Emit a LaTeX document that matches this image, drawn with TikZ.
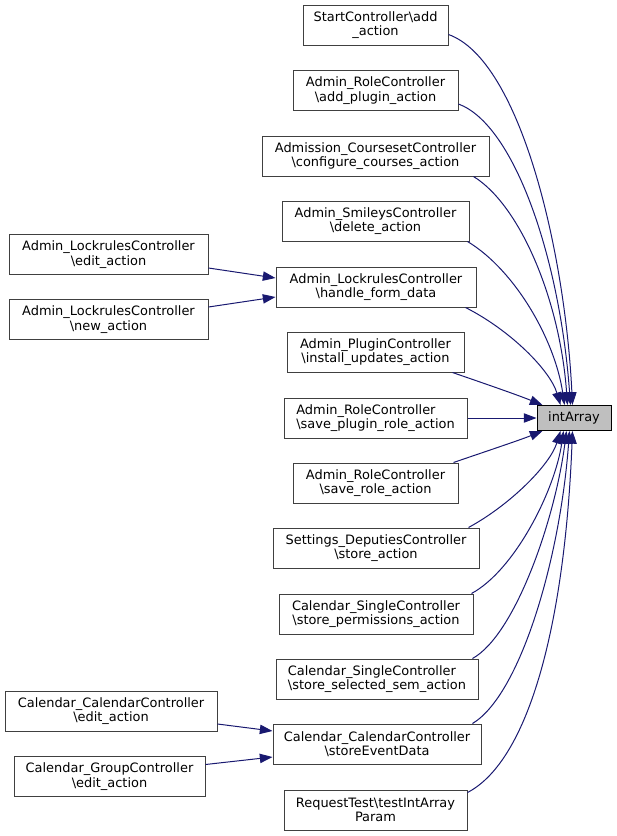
\documentclass[tikz,border=0pt]{standalone}
\usepackage{fontspec}
\setmainfont{DejaVu Sans}
\usetikzlibrary{arrows.meta,calc}
\definecolor{edgeblue}{HTML}{191970}
\definecolor{boxline}{HTML}{404040}
\definecolor{hlfill}{HTML}{BFBFBF}
\tikzset{
  fn/.style={draw=boxline, line width=0.75pt, fill=white, inner sep=0pt,
    minimum height=30pt, align=center, font=\fontsize{9.7}{10.7}\selectfont},
  fnl/.style={fn, align=left},
  hl/.style={draw=black, line width=0.75pt, fill=hlfill, inner sep=0pt,
    minimum height=18.75pt, minimum width=55.5pt, font=\fontsize{9.7}{10.7}\selectfont},
  call/.style={draw=edgeblue, line width=0.75pt, -{Triangle[length=9.5pt,width=7pt]}}
}
\begin{document}
\begin{tikzpicture}[x=0.75pt,y=-0.75pt]
\useasboundingbox (0,0) rectangle (617,836);
% target
\node[hl] (ia) at (574,418) {intArray};
% direct callers
\node[fn, minimum width=145*0.75pt] (st)  at (375.5,25)  {StartController\textbackslash add\\\_action};
\node[fn, minimum width=165*0.75pt] (arp) at (375.5,90.5) {Admin\_RoleController\\\textbackslash add\_plugin\_action};
\node[fn, minimum width=227*0.75pt] (acc) at (375.5,156) {Admission\_CoursesetController\\\textbackslash configure\_courses\_action};
\node[fn, minimum width=187*0.75pt] (del) at (375.5,221) {Admin\_SmileysController\\\textbackslash delete\_action};
\node[fn, minimum width=200*0.75pt] (hfd) at (376,287)   {Admin\_LockrulesController\\\textbackslash handle\_form\_data};
\node[fn, minimum width=177*0.75pt] (iua) at (375.5,352) {Admin\_PluginController\\\textbackslash install\_updates\_action};
\node[fnl, minimum width=183*0.75pt] (spr) at (375.5,418) {Admin\_RoleController\\\textbackslash save\_plugin\_role\_action};
\node[fn, minimum width=165*0.75pt] (sra) at (375.5,483) {Admin\_RoleController\\\textbackslash save\_role\_action};
\node[fn, minimum width=206*0.75pt] (sda) at (376,548)   {Settings\_DeputiesController\\\textbackslash store\_action};
\node[fn, minimum width=194*0.75pt] (spa) at (376,614)   {Calendar\_SingleController\\\textbackslash store\_permissions\_action};
\node[fnl, minimum width=202*0.75pt] (ssa) at (377,679)  {Calendar\_SingleController\\\textbackslash store\_selected\_sem\_action};
\node[fn, minimum width=208*0.75pt] (sed) at (377,744)   {Calendar\_CalendarController\\\textbackslash storeEventData};
\node[fn, minimum width=183*0.75pt] (rti) at (375.5,810) {RequestTest\textbackslash testIntArray\\Param};
% second-level callers
\node[fn, minimum width=199*0.75pt] (le) at (108.5,254.5) {Admin\_LockrulesController\\\textbackslash edit\_action};
\node[fn, minimum width=199*0.75pt] (ln) at (108.5,319.5) {Admin\_LockrulesController\\\textbackslash new\_action};
\node[fn, minimum width=212*0.75pt] (ce) at (111,711)     {Calendar\_CalendarController\\\textbackslash edit\_action};
\node[fn, minimum width=191*0.75pt] (ge) at (109.5,776.5) {Calendar\_GroupController\\\textbackslash edit\_action};
% edges into intArray from above
\draw[call] ($(st.south east)+(0,-11)$) .. controls (520,60) and (565,250) .. ($(ia.north west)+(36,0)$);
\draw[call] ($(arp.south east)+(0,-7)$) .. controls (515,125) and (560,260) .. ($(ia.north west)+(34,0)$);
\draw[call] ($(acc.south east)+(-16,0)$) .. controls (520,205) and (560,300) .. ($(ia.north west)+(31,0)$);
\draw[call] ($(del.south east)+(-2,0)$) .. controls (515,270) and (555,340) .. ($(ia.north west)+(28,0)$);
\draw[call] ($(hfd.south east)+(-11,0)$) .. controls (510,330) and (550,370) .. ($(ia.north west)+(24,0)$);
\draw[call] ($(iua.south east)+(-12,0)$) .. controls (480,382) and (515,394) .. ($(ia.north west)+(6,0)$);
\draw[call] (spr.east) -- (ia.west);
\draw[call] ($(sra.north east)+(-5,0)$) .. controls (490,450) and (520,440) .. ($(ia.south west)+(6,0)$);
\draw[call] ($(sda.north east)+(-11,0)$) .. controls (510,505) and (550,465) .. ($(ia.south west)+(24,0)$);
\draw[call] ($(spa.north east)+(-2,0)$) .. controls (515,570) and (555,490) .. ($(ia.south west)+(27,0)$);
\draw[call] ($(ssa.north east)+(-6,0)$) .. controls (515,635) and (555,520) .. ($(ia.south west)+(30,0)$);
\draw[call] ($(sed.north east)+(-9,0)$) .. controls (520,695) and (560,560) .. ($(ia.south west)+(33,0)$);
\draw[call] ($(rti.north east)+(0,3)$) .. controls (530,760) and (565,620) .. ($(ia.south west)+(36,0)$);
% second-level edges
\draw[call] ($(le.south east)+(0,-7)$) -- ($(hfd.west)+(0,-9)$);
\draw[call] ($(ln.north east)+(0,8)$) -- ($(hfd.west)+(0,10)$);
\draw[call] ($(ce.east)+(0,13)$) -- ($(sed.west)+(0,-13)$);
\draw[call] ($(ge.east)+(0,-12)$) -- ($(sed.west)+(0,13)$);
\end{tikzpicture}
\end{document}
